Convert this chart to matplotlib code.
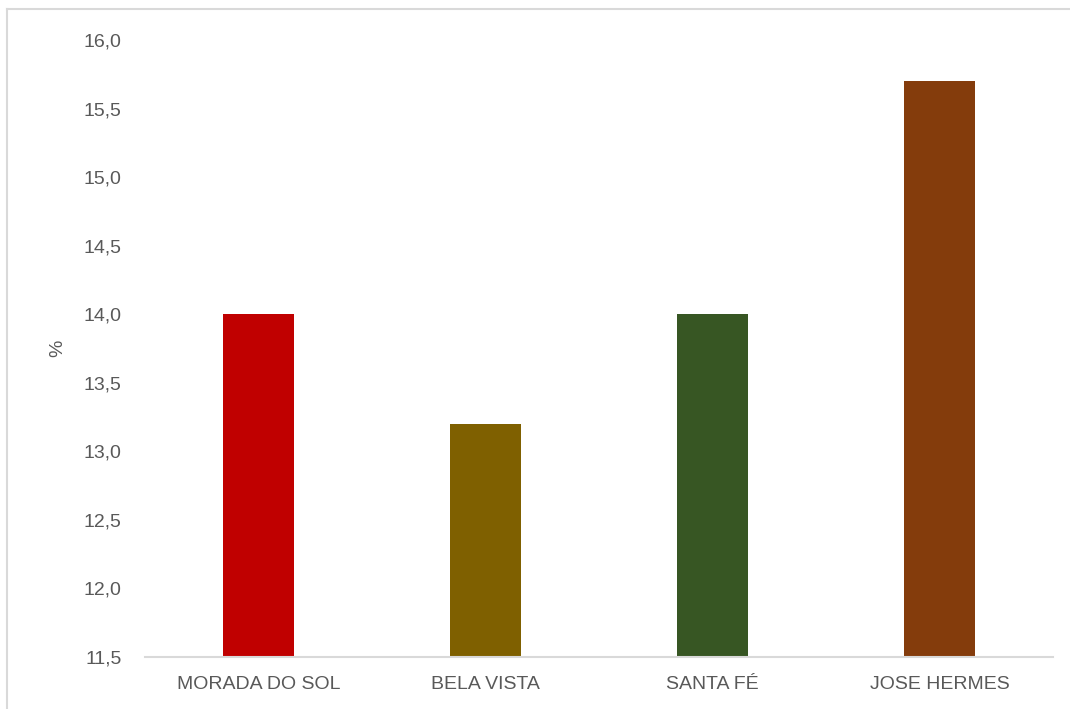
import matplotlib
matplotlib.use("Agg")
import matplotlib.pyplot as plt
from matplotlib.lines import Line2D
from matplotlib.ticker import FuncFormatter, MultipleLocator

bairros = ["MORADA DO SOL", "BELA VISTA", "SANTA FÉ", "JOSE HERMES"]
percentuais = [14.0, 13.2, 14.0, 15.7]
cores = ["#C00000", "#7F6000", "#375623", "#843C0C"]

plt.rcParams["font.family"] = ["Liberation Sans", "DejaVu Sans"]
texto = "#595959"

fig = plt.figure(figsize=(10.7, 7.09), dpi=100)
# moldura do gráfico: só as bordas de cima e da esquerda aparecem
x0, y0 = 7 / 1070, 1 - 9 / 709
fig.add_artist(Line2D([x0, 1.0], [y0, y0], transform=fig.transFigure,
                      color="#d9d9d9", linewidth=1.5))
fig.add_artist(Line2D([x0, x0], [0.0, y0], transform=fig.transFigure,
                      color="#d9d9d9", linewidth=1.5))
ax = fig.add_axes([145 / 1070, 1 - 657 / 709, 908 / 1070, 617 / 709])

x = range(len(bairros))
ax.bar(x, percentuais, width=0.31, color=cores, bottom=0)
ax.set_xlim(-0.5, len(bairros) - 0.5)
ax.set_ylim(11.5, 16.0)
ax.yaxis.set_major_locator(MultipleLocator(0.5))
ax.yaxis.set_major_formatter(FuncFormatter(lambda v, _: f"{v:.1f}".replace(".", ",")))
ax.set_xticks(list(x), bairros)

for lado in ["top", "right", "left"]:
    ax.spines[lado].set_visible(False)
ax.spines["bottom"].set_color("#d9d9d9")
ax.spines["bottom"].set_linewidth(1.5)
ax.tick_params(axis="both", length=0, labelsize=14, colors=texto)
ax.tick_params(axis="y", pad=17)
ax.tick_params(axis="x", pad=14)

ax.set_ylabel("%", fontsize=14, color=texto, labelpad=12)

fig.savefig("out.png", dpi=100)
